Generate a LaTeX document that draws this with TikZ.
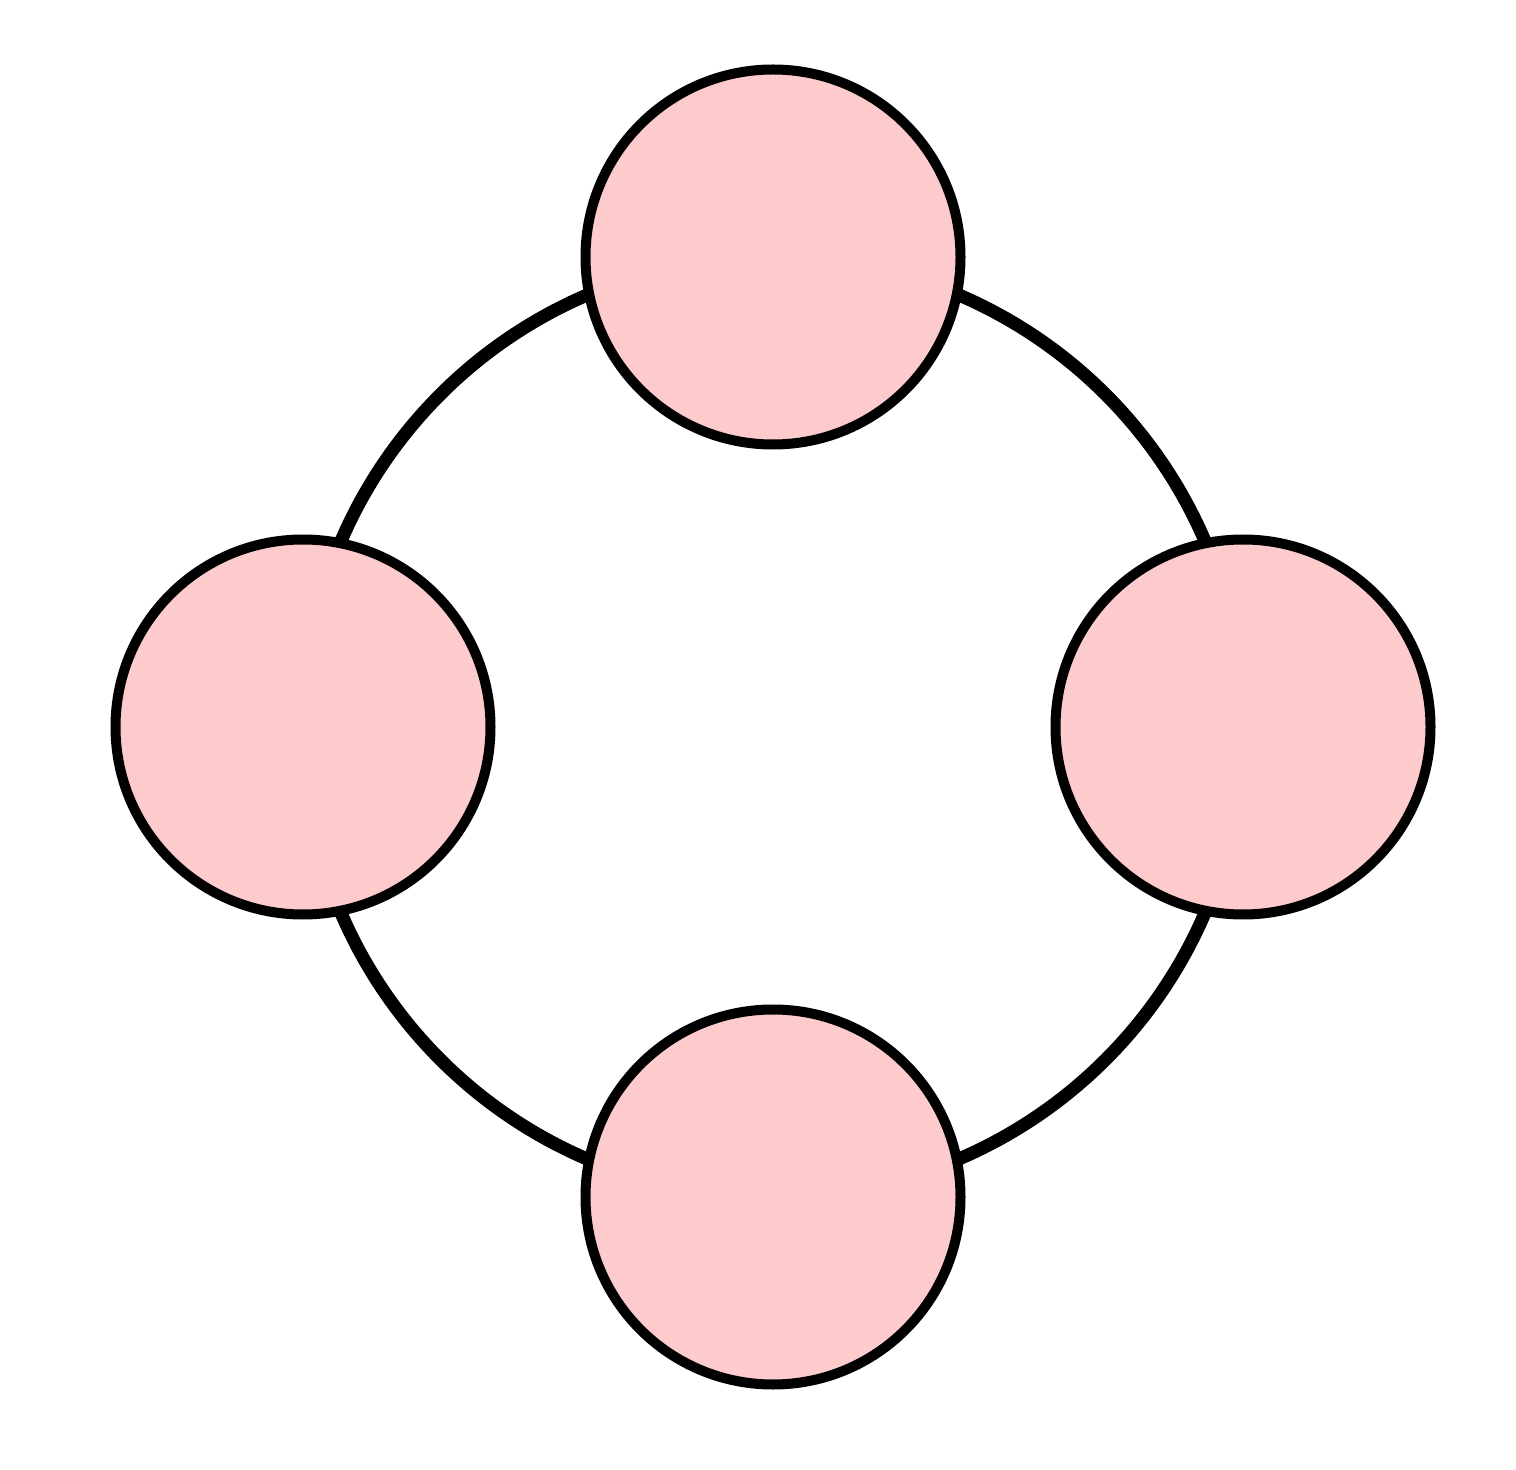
\documentclass[tikz,border=0pt]{standalone}
\usetikzlibrary{backgrounds}
\definecolor{nodepink}{HTML}{FDCBCB}
\begin{document}
\begin{tikzpicture}[x=0.5pt,y=-0.5pt,
  ball/.style={circle,draw=black,fill=nodepink,line width=5pt,minimum size=187.5pt,inner sep=0pt,outer sep=0pt},
  link/.style={line width=6.5pt,black}]
\useasboundingbox (0,0) rectangle (1516,1470);
\node[ball] (t) at (773,257) {};
\node[ball] (l) at (303,727) {};
\node[ball] (r) at (1243,727) {};
\node[ball] (b) at (773,1197) {};
\begin{scope}[on background layer]
\draw[link] (t.center) to[bend right=45] (l.center);
\draw[link] (l.center) to[bend right=45] (b.center);
\draw[link] (b.center) to[bend right=45] (r.center);
\draw[link] (r.center) to[bend right=45] (t.center);
\end{scope}
\end{tikzpicture}
\end{document}
